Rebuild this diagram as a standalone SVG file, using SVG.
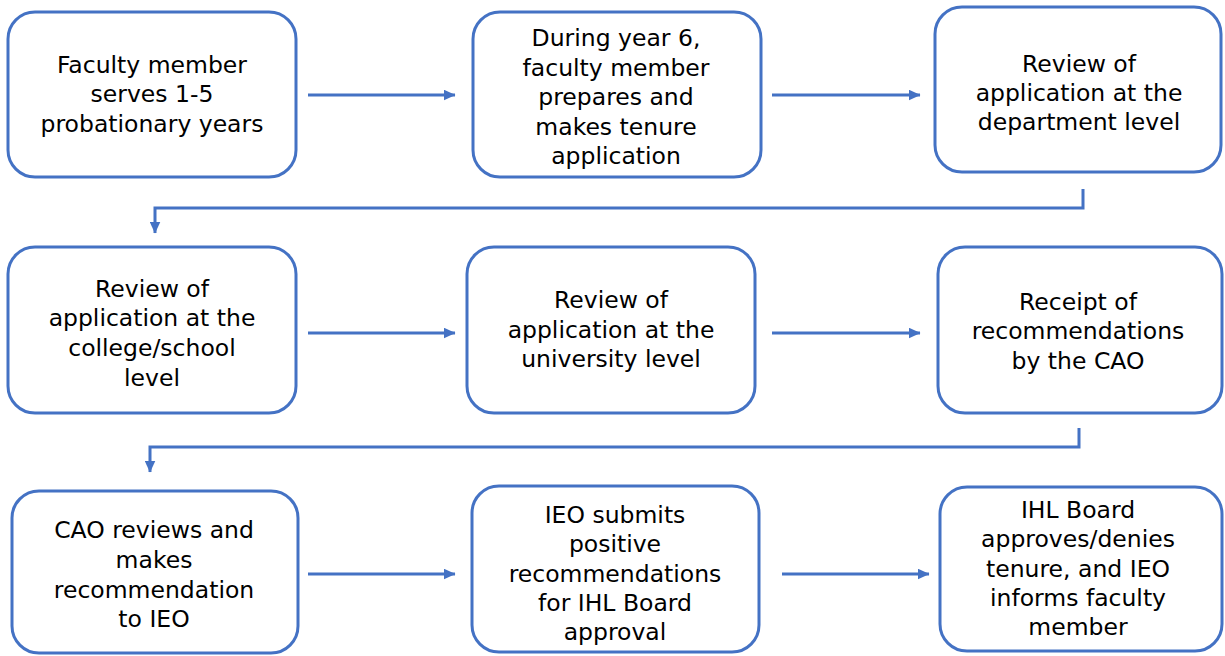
<svg xmlns="http://www.w3.org/2000/svg" width="1225" height="656" viewBox="0 0 1225 656">
<defs>
<style>
.box{fill:#ffffff;stroke:#4472C4;stroke-width:3}
.lbl{font-family:"DejaVu Sans","Verdana",sans-serif;font-size:23.5px;fill:#000;text-anchor:middle}
.con{fill:none;stroke:#4472C4;stroke-width:3}
</style>
<marker id="ah" markerUnits="userSpaceOnUse" markerWidth="12" markerHeight="11" refX="11.5" refY="5.5" orient="auto">
<path d="M0,0 L12,5.5 L0,11 z" fill="#4472C4"/>
</marker>
</defs>
<rect width="1225" height="656" fill="#ffffff"/>
<g id="connectors">
<line class="con" x1="308" y1="95" x2="455" y2="95" marker-end="url(#ah)"/>
<line class="con" x1="772" y1="95" x2="920" y2="95" marker-end="url(#ah)"/>
<path class="con" d="M1083,189 V208 H155 V233" marker-end="url(#ah)"/>
<line class="con" x1="308" y1="333" x2="455" y2="333" marker-end="url(#ah)"/>
<line class="con" x1="772" y1="333" x2="920" y2="333" marker-end="url(#ah)"/>
<path class="con" d="M1079,428 V447 H150 V472" marker-end="url(#ah)"/>
<line class="con" x1="308" y1="574" x2="455" y2="574" marker-end="url(#ah)"/>
<line class="con" x1="782" y1="574" x2="929" y2="574" marker-end="url(#ah)"/>
</g>
<g id="n1">
<rect class="box" x="8" y="12" width="288" height="165" rx="27"/>
<text class="lbl" x="152" y="72.5">Faculty member</text>
<text class="lbl" x="152" y="102">serves 1-5</text>
<text class="lbl" x="152" y="131.5">probationary years</text>
</g>
<g id="n2">
<rect class="box" x="473" y="12" width="288" height="165" rx="27"/>
<text class="lbl" x="616" y="46">During year 6,</text>
<text class="lbl" x="616" y="75.5">faculty member</text>
<text class="lbl" x="616" y="105">prepares and</text>
<text class="lbl" x="616" y="134.5">makes tenure</text>
<text class="lbl" x="616" y="164">application</text>
</g>
<g id="n3">
<rect class="box" x="935" y="7" width="286" height="165" rx="27"/>
<text class="lbl" x="1079" y="72">Review of</text>
<text class="lbl" x="1079" y="101">application at the</text>
<text class="lbl" x="1079" y="130">department level</text>
</g>
<g id="n4">
<rect class="box" x="8" y="247" width="288" height="166" rx="27"/>
<text class="lbl" x="152" y="296.5">Review of</text>
<text class="lbl" x="152" y="326">application at the</text>
<text class="lbl" x="152" y="356">college/school</text>
<text class="lbl" x="152" y="386">level</text>
</g>
<g id="n5">
<rect class="box" x="467" y="247" width="288" height="166" rx="27"/>
<text class="lbl" x="611" y="308">Review of</text>
<text class="lbl" x="611" y="337.5">application at the</text>
<text class="lbl" x="611" y="367">university level</text>
</g>
<g id="n6">
<rect class="box" x="938" y="247" width="284" height="166" rx="27"/>
<text class="lbl" x="1078" y="310">Receipt of</text>
<text class="lbl" x="1078" y="339">recommendations</text>
<text class="lbl" x="1078" y="368.5">by the CAO</text>
</g>
<g id="n7">
<rect class="box" x="12" y="491" width="286" height="162" rx="27"/>
<text class="lbl" x="154" y="538">CAO reviews and</text>
<text class="lbl" x="154" y="568">makes</text>
<text class="lbl" x="154" y="597.5">recommendation</text>
<text class="lbl" x="154" y="627">to IEO</text>
</g>
<g id="n8">
<rect class="box" x="472" y="486" width="287" height="166" rx="27"/>
<text class="lbl" x="615" y="523">IEO submits</text>
<text class="lbl" x="615" y="552">positive</text>
<text class="lbl" x="615" y="581.5">recommendations</text>
<text class="lbl" x="615" y="611">for IHL Board</text>
<text class="lbl" x="615" y="640">approval</text>
</g>
<g id="n9">
<rect class="box" x="940" y="487" width="282" height="164" rx="27"/>
<text class="lbl" x="1078" y="518">IHL Board</text>
<text class="lbl" x="1078" y="547">approves/denies</text>
<text class="lbl" x="1078" y="576.5">tenure, and IEO</text>
<text class="lbl" x="1078" y="606">informs faculty</text>
<text class="lbl" x="1078" y="635">member</text>
</g>
</svg>
